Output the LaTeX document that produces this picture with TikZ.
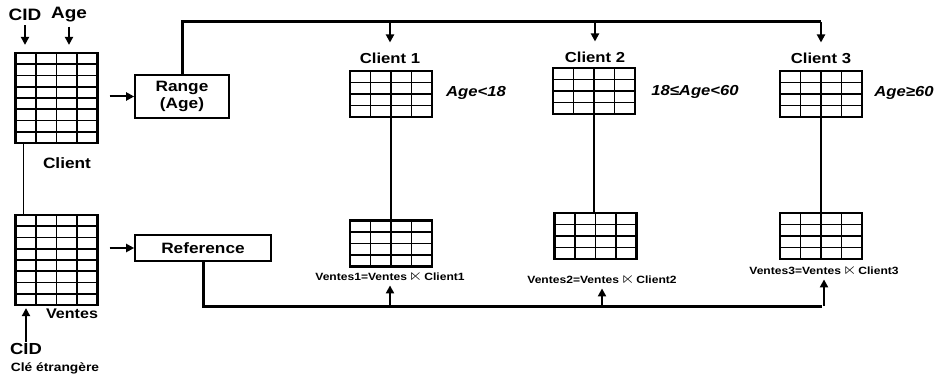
\documentclass[tikz,border=0pt]{standalone}
\usepackage{amssymb}
\usepackage{fontspec}
\setmainfont{Liberation Sans}[FakeStretch=1.15]
\usetikzlibrary{calc,arrows.meta}

% grid lines inside a table node (4 columns, #1 rows)
\newcommand\tabgrid[1]{%
  \foreach \c in {1,2,3}
    \draw[line width=1.8pt] ($(path picture bounding box.north west)!\c/4!(path picture bounding box.north east)$)
      -- ($(path picture bounding box.south west)!\c/4!(path picture bounding box.south east)$);
  \pgfmathtruncatemacro\lastrow{#1-1}
  \foreach \r in {1,...,\lastrow}
    \draw[line width=1.8pt] ($(path picture bounding box.north west)!\r/#1!(path picture bounding box.south west)$)
      -- ++(120pt,0);
}
\newcommand\semijoin{\,\scalebox{1.7}[1.5]{$\ltimes$}\,}

\begin{document}
\begin{tikzpicture}[x=1pt,y=-1pt,
  tab/.style={draw, line width=2.2pt, inner sep=0pt, minimum width=82pt, path picture={\tabgrid{#1}}},
  box/.style={draw, line width=1.6pt, inner sep=0pt, align=center, font=\fontsize{15}{17}\selectfont\bfseries},
  lbl/.style={inner sep=1pt, font=\fontsize{14.5}{16}\selectfont\bfseries},
  cond/.style={inner sep=1pt, font=\fontsize{14.5}{16}\selectfont\bfseries\itshape},
  joinlbl/.style={inner sep=1pt, font=\fontsize{10.5}{12}\selectfont\bfseries},
  arr/.style={line width=2pt, -{Triangle[width=8pt,length=8pt]}},
  route/.style={line width=3pt},
  link/.style={line width=1.2pt}]

\useasboundingbox (0,0) rectangle (939,374);

% Source tables
\node[tab=8, minimum height=90pt] (client) at (56.5,98) {};
\node[tab=8, minimum height=90pt] (ventes) at (56.5,260) {};
\node[lbl, font=\fontsize{16.5}{18}\selectfont\bfseries] (cid) at (25,15) {CID};
\node[lbl, font=\fontsize{16.5}{18}\selectfont\bfseries] (age) at (69,15) {Age};
\draw[arr, shorten <=3pt, shorten >=7pt] (cid.south) -- (cid.south |- client.north);
\draw[arr, shorten <=3pt, shorten >=7pt] (age.south) -- (age.south |- client.north);
\node[lbl, font=\fontsize{15}{17}\selectfont\bfseries] (clientlbl) at (67,163) {Client};
\draw[link] ($(client.south west)+(9,0)$) -- ($(ventes.north west)+(9,0)$);
\node[lbl, font=\fontsize{14}{16}\selectfont\bfseries] (venteslbl) at (72,314) {Ventes};
\node[lbl, font=\fontsize{16}{18}\selectfont\bfseries] (cidb) at (26,349) {CID};
\node[lbl, font=\fontsize{12}{14}\selectfont\bfseries] (cle) at (55,368) {Clé étrangère};
\draw[arr, shorten >=2pt] (cidb.north) -- (cidb.north |- ventes.south);

% Operators
\node[box, minimum width=94pt, minimum height=43pt] (range) at (182,96.5) {Range\\(Age)};
\node[box, minimum width=136pt, minimum height=26pt] (ref) at (203,248) {Reference};
\draw[arr] ($(client.east |- range.west)+(11,0)$) -- (range.west);
\draw[arr] ($(ventes.east |- ref.west)+(11,0)$) -- (ref.west);

% Fragments of Client
\node[lbl] (c1) at (390,58) {Client 1};
\node[lbl] (c2) at (595,57) {Client 2};
\node[lbl] (c3) at (821,58) {Client 3};
\node[tab=4, minimum height=46pt] (t1) at (391,94) {};
\node[tab=4, minimum height=46pt] (t2) at (594,91) {};
\node[tab=4, minimum height=46pt] (t3) at (821,94) {};
\node[cond] (k1) at (476,93) {Age<18};
\node[cond] (k2) at (695,92) {18≤Age<60};
\node[cond] (k3) at (904,93) {Age≥60};

% Fragments of Ventes
\node[tab=4, minimum height=46pt] (v1) at (391,243.5) {};
\node[tab=4, minimum height=46pt] (v2) at (595.5,236) {};
\node[tab=4, minimum height=46pt] (v3) at (821,236) {};
\node[joinlbl] (j1) at (390,277) {Ventes1=Ventes\semijoin Client1};
\node[joinlbl] (j2) at (602,280) {Ventes2=Ventes\semijoin Client2};
\node[joinlbl] (j3) at (824,271) {Ventes3=Ventes\semijoin Client3};
\draw[link] (t1.center) -- (t1.center |- v1.north);
\draw[link] (t2.center) -- (t2.center |- v2.north);
\draw[link] (t3.center) -- (t3.center |- v3.north);

% Routing
\coordinate (top) at (821,22);
\coordinate (bot) at (822,306);
\draw[route] (range.north) |- (top);
\draw[route] (ref.south) |- (bot);
\foreach \c in {c1,c2,c3}
  \draw[arr, shorten >=9pt] (\c |- top) -- (\c.north);
\foreach \j in {j1,j2,j3}
  \draw[arr, shorten >=2pt] (\j |- bot) -- (\j.south);

\end{tikzpicture}
\end{document}
